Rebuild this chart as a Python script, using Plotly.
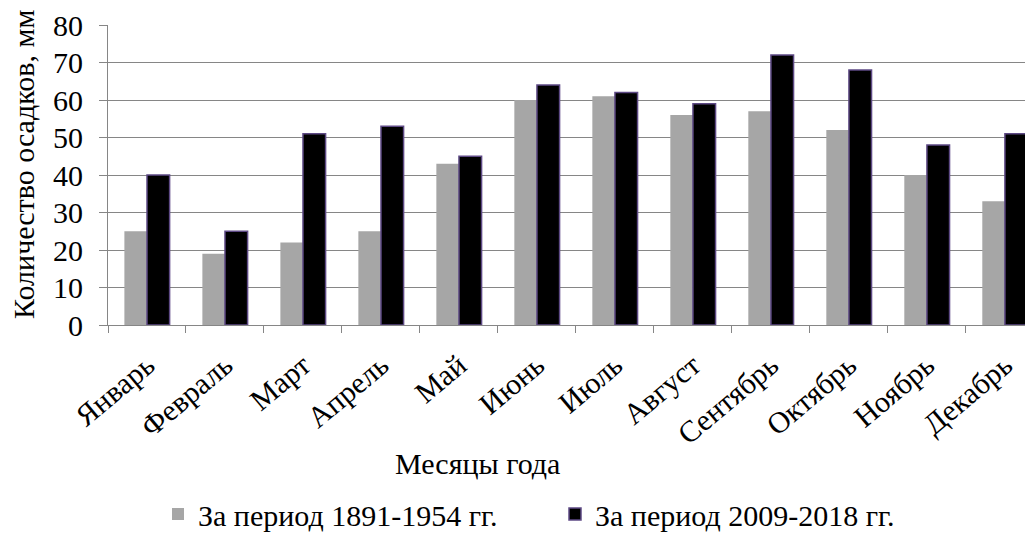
import plotly.graph_objects as go

months = ["Январь", "Февраль", "Март", "Апрель", "Май", "Июнь", "Июль",
          "Август", "Сентябрь", "Октябрь", "Ноябрь", "Декабрь"]
period_old = [25, 19, 22, 25, 43, 60, 61, 56, 57, 52, 40, 33]
period_new = [40, 25, 51, 53, 45, 64, 62, 59, 72, 68, 48, 51]
name_old = "За период 1891-1954 гг."
name_new = "За период 2009-2018 гг."

FONT = "Liberation Serif, Times New Roman, serif"
GRID = "#868686"

fig = go.Figure()
fig.add_trace(go.Bar(x=months, y=period_old, name=name_old,
                     marker=dict(color="#a6a6a6", line=dict(width=0))))
fig.add_trace(go.Bar(x=months, y=period_new, name=name_new,
                     marker=dict(color="#000000", line=dict(color="#5e4a85", width=1.5))))

# page body has an 8px margin: figure is made 8px smaller and coordinates shifted
OFF = 8
W, H = 1033 - OFF, 533 - OFF
L, R, T = 108 - OFF, 0, 25 - OFF
B = H - (325 - OFF)
pw, ph = W - L - R, H - T - B

def px(x):  # reference-pixel x -> paper
    return (x - OFF - L) / pw

def py(y):  # reference-pixel y -> paper
    return (H - B - (y - OFF)) / ph

fig.update_layout(
    width=W, height=H,
    margin=dict(l=L, r=R, t=T, b=B, autoexpand=False),
    paper_bgcolor="white", plot_bgcolor="white",
    font=dict(family=FONT, color="black", size=30),
    barmode="group", bargap=0.42, bargroupgap=0,
    showlegend=True,
    legend=dict(orientation="h", x=px(158), xanchor="left", y=py(514), yanchor="middle",
                font=dict(family=FONT, size=30), entrywidth=352, itemwidth=30,
                traceorder="normal"),
    xaxis=dict(type="category", range=[-0.5, 11.36], showgrid=False, automargin=False,
               showline=True, linecolor=GRID, linewidth=1,
               ticks="outside", tickson="boundaries", ticklen=7, tickcolor=GRID,
               ticklabelstandoff=10,
               tickangle=-40, tickfont=dict(family=FONT, size=30)),
    yaxis=dict(range=[0, 80], dtick=10, showgrid=True, gridcolor=GRID, gridwidth=1,
               showline=True, linecolor=GRID, linewidth=1, zeroline=False, automargin=False,
               ticks="outside", ticklen=8, tickcolor=GRID, ticklabelstandoff=10,
               tickfont=dict(family=FONT, size=30)),
    annotations=[
        dict(text="Количество осадков, мм", textangle=-90, xref="paper", yref="paper",
             x=px(23), y=py(165), xanchor="center", yanchor="middle", showarrow=False,
             font=dict(family=FONT, size=30)),
        dict(text="Месяцы года", xref="paper", yref="paper",
             x=px(477), y=py(463), xanchor="center", yanchor="middle", showarrow=False,
             font=dict(family=FONT, size=30)),
    ],
)

fig.write_html("out.html")
